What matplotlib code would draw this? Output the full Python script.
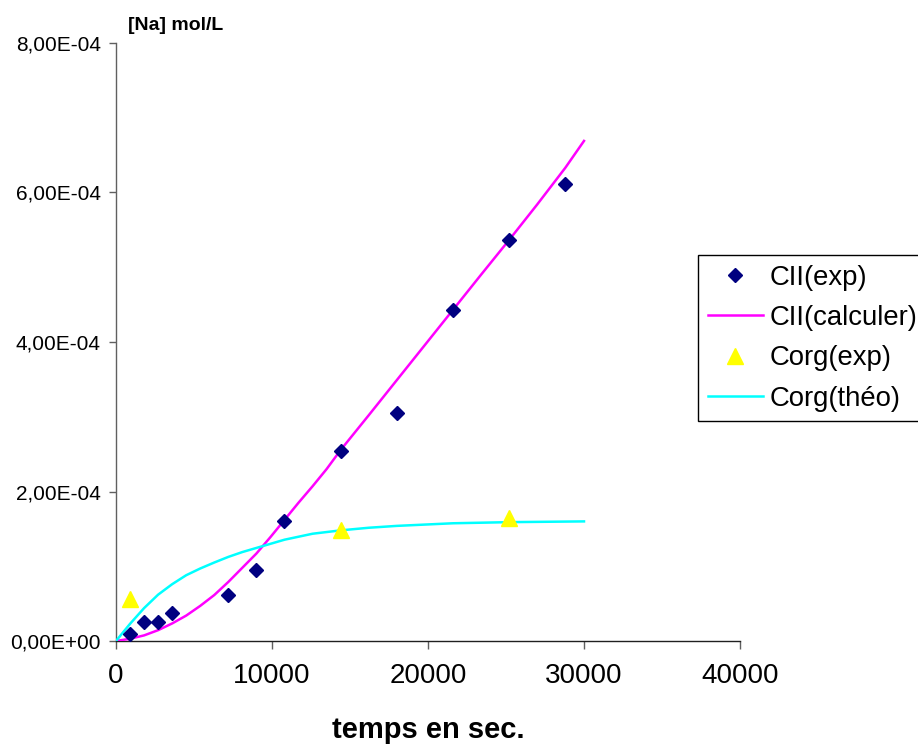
import matplotlib
matplotlib.use("Agg")
import matplotlib.pyplot as plt
from matplotlib.ticker import FuncFormatter, MultipleLocator

plt.rcParams['font.family'] = ['Liberation Sans', 'DejaVu Sans']

# Measured sodium concentration in the inner compartment (CII)
t_cii_exp = [900, 1800, 2700, 3600, 7200, 9000, 10800, 14400, 18000, 21600, 25200, 28800]
cii_exp = [0.94e-5, 2.57e-5, 2.48e-5, 3.8e-5, 6.15e-5, 9.5e-5, 1.605e-4,
           2.54e-4, 3.05e-4, 4.43e-4, 5.365e-4, 6.11e-4]

# Computed CII curve
t_cii_calc = [0, 900, 1800, 2700, 3600, 4500, 5400, 6300, 7200, 8100, 9000, 9900,
              10800, 11700, 12600, 13500, 14400, 16200, 18000, 19800, 21600,
              23400, 25200, 27000, 28800, 30000]
cii_calc = [0.0, 0.3e-5, 0.75e-5, 1.45e-5, 2.35e-5, 3.4e-5, 4.7e-5, 6.15e-5,
            7.9e-5, 9.8e-5, 1.17e-4, 1.39e-4, 1.62e-4, 1.85e-4, 2.07e-4, 2.3e-4,
            2.555e-4, 3.02e-4, 3.49e-4, 3.96e-4, 4.43e-4, 4.9e-4, 5.365e-4,
            5.84e-4, 6.33e-4, 6.69e-4]

# Measured concentration in the organic phase
t_corg_exp = [900, 14400, 25200]
corg_exp = [5.6e-5, 1.48e-4, 1.645e-4]

# Theoretical organic-phase curve
t_corg_theo = [0, 900, 1800, 2700, 3600, 4500, 5400, 6300, 7200, 8100, 9000, 9900,
               10800, 12600, 14400, 16200, 18000, 21600, 25200, 30000]
corg_theo = [0.0, 2.3e-5, 4.4e-5, 6.2e-5, 7.6e-5, 8.8e-5, 9.7e-5, 1.05e-4,
             1.125e-4, 1.19e-4, 1.245e-4, 1.3e-4, 1.355e-4, 1.435e-4, 1.48e-4,
             1.515e-4, 1.54e-4, 1.575e-4, 1.59e-4, 1.6e-4]

x_ticks = [0, 10000, 20000, 30000, 40000]

fig = plt.figure(figsize=(9.18, 7.45), dpi=100)
ax = fig.add_axes([116 / 918, 1 - 641 / 745, 624 / 918, 598 / 745])

ax.plot(t_cii_exp, cii_exp, linestyle='none', marker='D', markersize=7.2,
        color='#000080', label='CII(exp)', zorder=4)
ax.plot(t_cii_calc, cii_calc, color='#FF00FF', linewidth=1.8,
        label='CII(calculer)', zorder=3)
ax.plot(t_corg_exp, corg_exp, linestyle='none', marker='^', markersize=11.5,
        color='#FFFF00', label='Corg(exp)', zorder=4)
ax.plot(t_corg_theo, corg_theo, color='#00FFFF', linewidth=1.8,
        label='Corg(théo)', zorder=3)

ax.set_xlim(0, 40000)
ax.set_ylim(0, 8e-4)
ax.set_xticks(x_ticks)
ax.xaxis.set_major_formatter(FuncFormatter(lambda v, p: f"{int(v)}"))
ax.yaxis.set_major_locator(MultipleLocator(2e-4))
ax.yaxis.set_major_formatter(
    FuncFormatter(lambda v, p: f"{v:.2E}".replace('.', ',')))

for side in ('top', 'right'):
    ax.spines[side].set_visible(False)
ax.spines['left'].set_color('#606060')
ax.spines['bottom'].set_color('#202020')
for side in ('left', 'bottom'):
    ax.spines[side].set_linewidth(1.0)

ax.tick_params(axis='x', direction='out', length=5.5, width=1, color='#606060',
               labelsize=20, pad=10)
ax.tick_params(axis='y', direction='out', length=5, width=1, color='#606060',
               labelsize=15, pad=6)

fig.text(128 / 918, 1 - 25 / 745, '[Na] mol/L', fontsize=14, fontweight='bold',
         ha='left', va='center')
fig.text(428 / 918, 1 - 730 / 745, 'temps en sec.', fontsize=21,
         fontweight='bold', ha='center', va='center')

leg = fig.legend(loc='upper left', bbox_to_anchor=(698 / 918, 1 - 255 / 745),
                 fontsize=19.8, frameon=True, fancybox=False, framealpha=1,
                 edgecolor='black', handlelength=2.0, handletextpad=0.25,
                 borderpad=0.35, labelspacing=0.52, borderaxespad=0)
leg.get_frame().set_linewidth(1.0)

fig.savefig('out.png', dpi=100)
